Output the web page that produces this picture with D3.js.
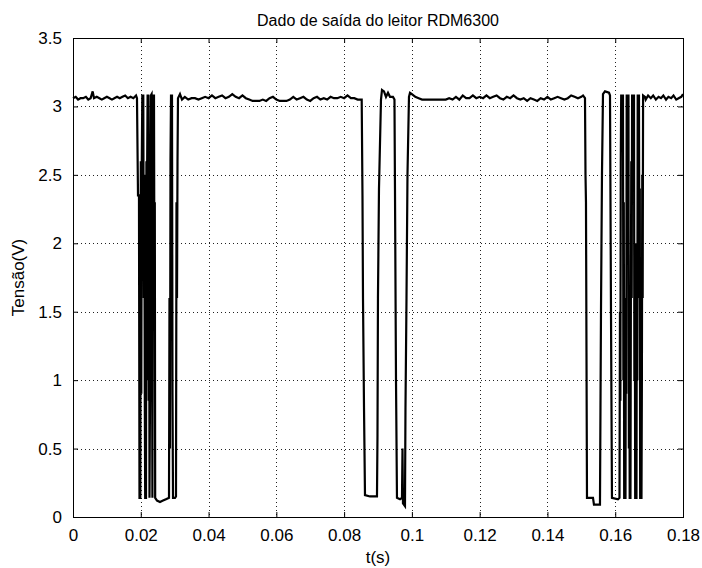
<!DOCTYPE html>
<html>
<head>
<meta charset="utf-8">
<script src="https://cdn.jsdelivr.net/npm/d3@7"></script>
<style>
  body { margin: 0; background: #fff; }
  text { font-family: 'Liberation Sans', Arial, sans-serif; fill: #000; }
</style>
</head>
<body>
<div id="chart"></div>
<script>
let baseA = [[0,3.06],[0.0008,3.07],[0.0015,3.05],[0.0022,3.06],[0.003,3.06],[0.0038,3.07],[0.0045,3.05],
  [0.0052,3.06],[0.0058,3.11],[0.0062,3.06],[0.007,3.07],[0.0078,3.06],[0.0085,3.05],[0.0092,3.06],[0.01,3.07],
  [0.0108,3.06],[0.0115,3.05],[0.0122,3.06],[0.013,3.07],[0.0138,3.06],[0.0146,3.07],[0.0154,3.08],[0.0162,3.06],
  [0.017,3.07],[0.0178,3.06],[0.0186,3.08]];

let burst1 = [[0.01888,3.06],[0.01918,2.35],[0.01947,2.35],[0.01962,0.14],[0.01986,0.14],[0.02001,2.6],[0.02015,0.9],
  [0.0203,2.6],[0.02045,3.08],[0.02074,3.08],[0.02089,1.6],[0.02104,2.5],[0.02119,0.85],[0.0213,0.14],[0.02154,0.14],
  [0.02166,2.6],[0.02178,1.0],[0.02189,2.6],[0.02201,3.08],[0.02222,3.08],[0.02234,0.85],[0.02246,2.4],[0.02257,0.14],
  [0.02272,0.85],[0.02284,2.6],[0.02296,3.08],[0.02319,3.09],[0.02331,1.6],[0.02343,0.14],[0.02355,1.6],[0.02366,3.08],
  [0.0239,3.08],[0.02402,1.7],[0.02414,2.3],[0.02425,0.14],[0.02479,0.12],[0.02567,0.11],[0.02656,0.12],[0.02744,0.13],
  [0.02833,0.14],[0.02847,1.6],[0.02862,0.5],[0.02877,2.6],[0.02892,3.08],[0.02921,3.08],[0.02936,0.9],[0.02951,0.14],
  [0.0301,0.14],[0.03039,0.15],[0.03054,2.3],[0.03069,1.6],[0.03084,2.6],[0.03098,3.06],[0.03157,3.09],[0.03187,3.07],
  [0.03216,3.05]];

let baseB = [[0.033,3.07],[0.034,3.05],[0.035,3.06],[0.036,3.06],[0.037,3.05],[0.038,3.06],[0.039,3.07],[0.04,3.06],
  [0.041,3.08],[0.042,3.06],[0.043,3.07],[0.044,3.08],[0.045,3.06],[0.046,3.07],[0.047,3.09],[0.048,3.07],[0.049,3.06],
  [0.05,3.08],[0.051,3.06],[0.052,3.05],[0.053,3.04],[0.054,3.04],[0.055,3.04],[0.056,3.05],[0.057,3.04],[0.058,3.06],
  [0.059,3.07],[0.06,3.05],[0.061,3.04],[0.062,3.04],[0.063,3.04],[0.064,3.05],[0.065,3.07],[0.066,3.05],[0.067,3.06],
  [0.068,3.07],[0.069,3.05],[0.07,3.04],[0.071,3.06],[0.072,3.07],[0.073,3.05],[0.074,3.06],[0.075,3.05],[0.076,3.07],
  [0.077,3.06],[0.078,3.06],[0.079,3.07],[0.08,3.06],[0.081,3.08],[0.082,3.06],[0.083,3.06],[0.084,3.05],[0.085,3.05]];

let burst2 = [[0.08519,3.05],[0.08542,2.35],[0.08557,1.6],[0.08587,0.8],[0.08616,0.16],[0.08764,0.15],[0.0897,0.15],
  [0.08985,0.6],[0.08999,1.6],[0.09029,2.4],[0.09088,3.05],[0.09118,3.12],[0.09177,3.11],[0.09236,3.07],[0.09295,3.1],
  [0.09354,3.07],[0.09442,3.07],[0.09486,3.05],[0.09501,2.4],[0.09531,1.0],[0.0956,0.14],[0.09649,0.13],[0.09708,0.14],
  [0.09723,0.5],[0.09737,0.1],[0.09796,0.08],[0.09811,0.8],[0.09841,1.6],[0.0987,2.5],[0.09914,3.07],[0.09944,3.1]];

let baseC = [[0.1,3.09],[0.101,3.07],[0.102,3.06],[0.103,3.05],[0.104,3.05],[0.105,3.05],[0.106,3.05],[0.107,3.05],
  [0.108,3.05],[0.109,3.05],[0.11,3.05],[0.111,3.06],[0.112,3.05],[0.113,3.07],[0.114,3.05],[0.115,3.08],[0.116,3.06],
  [0.117,3.06],[0.118,3.08],[0.119,3.06],[0.12,3.07],[0.121,3.06],[0.122,3.08],[0.123,3.06],[0.124,3.07],[0.125,3.08],
  [0.126,3.06],[0.127,3.05],[0.128,3.07],[0.129,3.06],[0.13,3.08],[0.131,3.06],[0.132,3.05],[0.133,3.06],[0.134,3.04],
  [0.135,3.06],[0.136,3.05],[0.137,3.04],[0.138,3.06],[0.139,3.05],[0.14,3.07],[0.141,3.05],[0.142,3.06],[0.143,3.07],
  [0.144,3.06],[0.145,3.05],[0.146,3.06],[0.147,3.08],[0.148,3.07],[0.149,3.06],[0.15,3.07],[0.1505,3.08]];

let burst3 = [[0.15108,3.06],[0.15123,2.5],[0.15137,2.3],[0.15152,1.2],[0.15167,0.14],[0.15344,0.14],[0.15373,0.09],
  [0.1555,0.09],[0.15565,0.8],[0.1558,1.5],[0.15609,2.5],[0.15639,3.09],[0.15698,3.11],[0.15816,3.1],[0.15846,3.08],
  [0.15875,1.5],[0.15904,0.14],[0.16081,0.13],[0.16126,0.14],[0.1614,1.5],[0.16152,0.85],[0.16164,2.6],[0.16176,3.08],
  [0.16229,3.08],[0.16241,1.0],[0.16253,2.3],[0.16264,0.14],[0.16303,0.14],[0.16315,1.6],[0.16326,0.9],[0.16338,3.08],
  [0.16391,3.08],[0.16403,0.5],[0.16415,1.6],[0.16427,0.14],[0.1645,0.14],[0.16462,1.6],[0.16474,2.6],[0.16486,1.6],
  [0.16498,3.08],[0.16554,3.08],[0.16565,1.0],[0.16577,2.0],[0.16589,0.14],[0.16627,0.14],[0.16639,2.0],[0.16651,1.0],
  [0.16663,3.08],[0.16701,3.08],[0.16713,1.6],[0.16725,2.4],[0.16736,0.14],[0.16775,0.14],[0.16787,1.0],[0.16798,2.5],
  [0.1681,1.6],[0.16822,3.08],[0.16878,3.07]];

let baseD = [[0.169,3.05],[0.1697,3.08],[0.1705,3.06],[0.1712,3.08],[0.172,3.05],[0.1728,3.07],[0.1735,3.06],
  [0.1742,3.08],[0.175,3.05],[0.1757,3.07],[0.1765,3.06],[0.1772,3.08],[0.178,3.05],[0.1787,3.06],[0.1795,3.07],[0.18,3.09]];

let xTicks = [0, 0.02, 0.04, 0.06, 0.08, 0.1, 0.12, 0.14, 0.16, 0.18];
let yTicks = [0, 0.5, 1, 1.5, 2, 2.5, 3, 3.5];

let signal = [].concat(baseA, burst1, baseB, burst2, baseC, burst3, baseD);

let margin = { top: 38, left: 73, right: 19, bottom: 51 },
  width = 702 - margin.left - margin.right,
  height = 568 - margin.top - margin.bottom;

let svg = d3.select('#chart')
  .append('svg')
  .attr('width', 702)
  .attr('height', 568);

let g = svg.append('g')
  .attr('transform', 'translate(' + margin.left + ',' + margin.top + ')');

let x = d3.scaleLinear().domain([0, 0.18]).range([0, width]),
  y = d3.scaleLinear().domain([0, 3.5]).range([height, 0]);

let fmt = d => String(+d.toFixed(2));

// dotted grid
g.append('g').selectAll('line')
  .data(xTicks.slice(1, -1))
  .enter().append('line')
  .attr('x1', d => Math.round(x(d)) + 0.5).attr('x2', d => Math.round(x(d)) + 0.5)
  .attr('y1', 0).attr('y2', height)
  .attr('stroke', '#222').attr('stroke-width', 1).attr('stroke-dasharray', '1,3');

g.append('g').selectAll('line')
  .data(yTicks.slice(1, -1))
  .enter().append('line')
  .attr('y1', d => Math.round(y(d)) + 0.5).attr('y2', d => Math.round(y(d)) + 0.5)
  .attr('x1', 0).attr('x2', width)
  .attr('stroke', '#222').attr('stroke-width', 1).attr('stroke-dasharray', '1,3');

// signal
let line = d3.line()
  .x(d => x(d[0]))
  .y(d => y(d[1]));

g.append('path')
  .datum(signal)
  .attr('fill', 'none')
  .attr('stroke', '#000')
  .attr('stroke-width', 2.2)
  .attr('stroke-linejoin', 'miter')
  .attr('d', line);

// axes with inward ticks on all sides
let axisStyle = sel => {
  sel.select('.domain').remove();
  sel.selectAll('.tick line').attr('stroke', '#000');
  sel.selectAll('.tick text').style('font-size', '17px');
};

g.append('g')
  .attr('transform', 'translate(0,' + height + ')')
  .call(d3.axisBottom(x).tickValues(xTicks).tickFormat(fmt).tickSizeInner(-5).tickPadding(12))
  .call(axisStyle);

g.append('g')
  .call(d3.axisTop(x).tickValues(xTicks).tickSizeInner(-5).tickFormat(''))
  .call(axisStyle);

g.append('g')
  .call(d3.axisLeft(y).tickValues(yTicks).tickFormat(fmt).tickSizeInner(-5).tickPadding(11))
  .call(axisStyle);

g.append('g')
  .attr('transform', 'translate(' + width + ',0)')
  .call(d3.axisRight(y).tickValues(yTicks).tickSizeInner(-5).tickFormat(''))
  .call(axisStyle);

g.append('rect')
  .attr('x', 0.5).attr('y', 0.5)
  .attr('width', width).attr('height', height)
  .attr('fill', 'none').attr('stroke', '#000');

// labels
svg.append('text')
  .attr('x', margin.left + width / 2).attr('y', 26)
  .attr('text-anchor', 'middle')
  .style('font-size', '16px')
  .text('Dado de saída do leitor RDM6300');

svg.append('text')
  .attr('x', margin.left + width / 2).attr('y', 563)
  .attr('text-anchor', 'middle')
  .style('font-size', '17px')
  .text('t(s)');

svg.append('text')
  .attr('transform', 'translate(24,' + (margin.top + height / 2) + ') rotate(-90)')
  .attr('text-anchor', 'middle')
  .style('font-size', '17px')
  .text('Tensão(V)');
</script>
</body>
</html>
